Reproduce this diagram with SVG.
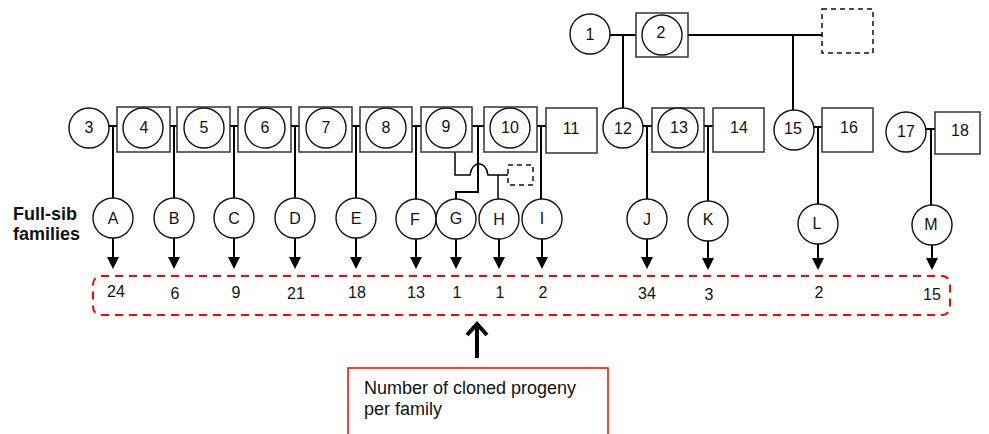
<svg xmlns="http://www.w3.org/2000/svg" width="989" height="434" viewBox="0 0 989 434">
<defs>
<style>
text{font-family:"Liberation Sans",Arial,sans-serif;font-size:16px;fill:#111;}
.lbl{text-anchor:middle;}
.nd{fill:#fff;stroke:#111;stroke-width:1.4;}
.sq{fill:#fff;stroke:#333;stroke-width:1.5;}
.dash{fill:none;stroke:#111;stroke-width:1.5;stroke-dasharray:5 4;}
.e{fill:none;stroke:#000;stroke-width:2;}
.e1{fill:none;stroke:#000;stroke-width:1.5;}
.ar{fill:none;stroke:#000;stroke-width:2;marker-end:url(#ah);}
.num{text-anchor:middle;font-size:16px;}
</style>
<marker id="ah" viewBox="0 0 12 12" markerWidth="12" markerHeight="12" refX="5" refY="6" orient="auto" markerUnits="userSpaceOnUse">
<path d="M0,0 L12,6 L0,12 z" fill="#000"/>
</marker>
</defs>
<rect width="989" height="434" fill="#fff"/>

<g id="connectors">
<!-- generation 1 -->
<line class="e" x1="610" y1="35" x2="636" y2="35"/>
<line class="e" x1="688" y1="35" x2="822" y2="35"/>
<line class="e" x1="623" y1="35" x2="623" y2="108"/>
<line class="e" x1="793" y1="35" x2="793" y2="110"/>
<!-- generation 2 matings -->
<line class="e" x1="109" y1="126" x2="117" y2="126"/>
<line class="e" x1="113" y1="126" x2="113" y2="198"/>
<line class="e" x1="170" y1="126" x2="177" y2="126"/>
<line class="e" x1="174" y1="126" x2="174" y2="198"/>
<line class="e" x1="230" y1="126" x2="238" y2="126"/>
<line class="e" x1="234" y1="126" x2="234" y2="198"/>
<line class="e" x1="291" y1="126" x2="299" y2="126"/>
<line class="e" x1="295" y1="126" x2="295" y2="198"/>
<line class="e" x1="352" y1="126" x2="360" y2="126"/>
<line class="e" x1="356" y1="126" x2="356" y2="198"/>
<line class="e" x1="412" y1="126" x2="421" y2="126"/>
<line class="e" x1="416" y1="126" x2="416" y2="199"/>
<line class="e" x1="472" y1="126" x2="484" y2="126"/>
<polyline class="e" points="478,126 478,192 456,192 456,199"/>
<line class="e" x1="537" y1="126" x2="546" y2="126"/>
<line class="e" x1="541" y1="126" x2="541" y2="199"/>
<line class="e" x1="643" y1="126" x2="652" y2="126"/>
<line class="e" x1="647" y1="126" x2="647" y2="199"/>
<line class="e" x1="704" y1="126" x2="713" y2="126"/>
<line class="e" x1="708" y1="126" x2="708" y2="201"/>
<line class="e" x1="814" y1="127" x2="822" y2="127"/>
<line class="e" x1="818" y1="127" x2="818" y2="204"/>
<line class="e" x1="926" y1="129" x2="935" y2="129"/>
<line class="e" x1="931" y1="129" x2="931" y2="205"/>
<!-- 9 x unknown -->
<path class="e1" d="M455,152 L455,175 L470,175 C472,160 486,160 488,175 L508,175"/>
<line class="e1" x1="498" y1="175" x2="498" y2="199"/>
<!-- arrows to counts -->
<line class="ar" x1="113" y1="238" x2="113" y2="262"/>
<line class="ar" x1="174" y1="238" x2="174" y2="262"/>
<line class="ar" x1="234" y1="238" x2="234" y2="262"/>
<line class="ar" x1="295" y1="238" x2="295" y2="262"/>
<line class="ar" x1="356" y1="238" x2="356" y2="262"/>
<line class="ar" x1="416" y1="239" x2="416" y2="262"/>
<line class="ar" x1="456" y1="239" x2="456" y2="262"/>
<line class="ar" x1="499" y1="239" x2="499" y2="262"/>
<line class="ar" x1="542" y1="239" x2="542" y2="262"/>
<line class="ar" x1="647" y1="239" x2="647" y2="262"/>
<line class="ar" x1="708" y1="241" x2="708" y2="263"/>
<line class="ar" x1="818" y1="244" x2="818" y2="263"/>
<line class="ar" x1="932" y1="245" x2="932" y2="263"/>
<!-- up arrow -->
<line x1="477" y1="358" x2="477" y2="325" stroke="#000" stroke-width="4"/>
<polyline points="467,335 477,324 487,335" fill="none" stroke="#000" stroke-width="4"/>
</g>

<g id="n1"><circle class="nd" cx="590" cy="34" r="20"/><text class="lbl" x="590" y="40">1</text></g>
<g id="n2"><rect class="sq" x="636" y="13" width="52" height="44"/><circle class="nd" cx="662" cy="35" r="20"/><text class="lbl" x="661" y="38">2</text></g>
<g id="unknown1"><rect class="dash" x="822" y="9" width="51" height="44"/></g>

<g id="n3"><circle class="nd" cx="89" cy="128" r="20"/><text class="lbl" x="89" y="133">3</text></g>
<g id="n4"><rect class="sq" x="117" y="107" width="53" height="45"/><circle class="nd" cx="143" cy="128" r="20"/><text class="lbl" x="144" y="133">4</text></g>
<g id="n5"><rect class="sq" x="177" y="107" width="53" height="45"/><circle class="nd" cx="204" cy="128" r="20"/><text class="lbl" x="204" y="133">5</text></g>
<g id="n6"><rect class="sq" x="238" y="107" width="53" height="45"/><circle class="nd" cx="265" cy="128" r="20"/><text class="lbl" x="265" y="133">6</text></g>
<g id="n7"><rect class="sq" x="299" y="107" width="53" height="45"/><circle class="nd" cx="326" cy="128" r="20"/><text class="lbl" x="326" y="133">7</text></g>
<g id="n8"><rect class="sq" x="360" y="107" width="52" height="45"/><circle class="nd" cx="386" cy="128" r="20"/><text class="lbl" x="386" y="133">8</text></g>
<g id="n9"><rect class="sq" x="421" y="107" width="51" height="45"/><circle class="nd" cx="446" cy="128" r="20"/><text class="lbl" x="446" y="132">9</text></g>
<g id="n10"><rect class="sq" x="484" y="107" width="53" height="45"/><circle class="nd" cx="510" cy="128" r="20"/><text class="lbl" x="510" y="133">10</text></g>
<g id="n11"><rect class="sq" x="546" y="108" width="51" height="45"/><text class="lbl" x="571" y="134">11</text></g>
<g id="n12"><circle class="nd" cx="623" cy="128" r="20"/><text class="lbl" x="623" y="134">12</text></g>
<g id="n13"><rect class="sq" x="652" y="108" width="52" height="44"/><circle class="nd" cx="678" cy="128" r="20"/><text class="lbl" x="679" y="133">13</text></g>
<g id="n14"><rect class="sq" x="713" y="108" width="51" height="44"/><text class="lbl" x="739" y="133">14</text></g>
<g id="n15"><circle class="nd" cx="794" cy="130" r="20"/><text class="lbl" x="793" y="134">15</text></g>
<g id="n16"><rect class="sq" x="822" y="108" width="51" height="44"/><text class="lbl" x="849" y="133">16</text></g>
<g id="n17"><circle class="nd" cx="906" cy="132" r="20"/><text class="lbl" x="906" y="137">17</text></g>
<g id="n18"><rect class="sq" x="935" y="112" width="45" height="42"/><text class="lbl" x="960" y="136">18</text></g>
<g id="unknown2"><rect class="dash" x="508" y="165" width="25" height="20" stroke-dasharray="4 3"/></g>

<g id="label-fullsib"><text x="13" y="220" font-weight="bold" font-size="18" style="font-size:18px">Full-sib</text><text x="13" y="240" font-weight="bold" style="font-size:18px">families</text></g>

<g id="fA"><circle class="nd" cx="113" cy="218" r="20"/><text class="lbl" x="113" y="224">A</text></g>
<g id="fB"><circle class="nd" cx="174" cy="218" r="20"/><text class="lbl" x="174" y="224">B</text></g>
<g id="fC"><circle class="nd" cx="234" cy="218" r="20"/><text class="lbl" x="234" y="224">C</text></g>
<g id="fD"><circle class="nd" cx="295" cy="218" r="20"/><text class="lbl" x="295" y="224">D</text></g>
<g id="fE"><circle class="nd" cx="356" cy="218" r="20"/><text class="lbl" x="356" y="224">E</text></g>
<g id="fF"><circle class="nd" cx="416" cy="219" r="20"/><text class="lbl" x="415" y="225">F</text></g>
<g id="fG"><circle class="nd" cx="456" cy="219" r="20"/><text class="lbl" x="456" y="224">G</text></g>
<g id="fH"><circle class="nd" cx="499" cy="219" r="20"/><text class="lbl" x="499" y="225">H</text></g>
<g id="fI"><circle class="nd" cx="542" cy="219" r="20"/><text class="lbl" x="542" y="224">I</text></g>
<g id="fJ"><circle class="nd" cx="647" cy="219" r="20"/><text class="lbl" x="647" y="225">J</text></g>
<g id="fK"><circle class="nd" cx="708" cy="221" r="20"/><text class="lbl" x="708" y="225">K</text></g>
<g id="fL"><circle class="nd" cx="818" cy="224" r="20"/><text class="lbl" x="817" y="229">L</text></g>
<g id="fM"><circle class="nd" cx="932" cy="225" r="20"/><text class="lbl" x="931" y="230">M</text></g>

<g id="counts">
<rect x="93" y="276" width="857" height="39" rx="8" fill="none" stroke="#ff0000" stroke-width="2" stroke-dasharray="8 6"/>
<text class="num" x="116" y="297">24</text>
<text class="num" x="175" y="299">6</text>
<text class="num" x="236" y="298">9</text>
<text class="num" x="296" y="299">21</text>
<text class="num" x="357" y="298">18</text>
<text class="num" x="416" y="298">13</text>
<text class="num" x="457" y="298">1</text>
<text class="num" x="500" y="298">1</text>
<text class="num" x="543" y="298">2</text>
<text class="num" x="647" y="299">34</text>
<text class="num" x="709" y="300">3</text>
<text class="num" x="819" y="298">2</text>
<text class="num" x="932" y="300">15</text>
</g>

<g id="note">
<rect x="348" y="368" width="260" height="80" fill="#fff" stroke="#ff0000" stroke-width="1.5"/>
<text x="364" y="394" style="font-size:18px">Number of cloned progeny</text>
<text x="364" y="415" style="font-size:18px">per family</text>
</g>
</svg>
